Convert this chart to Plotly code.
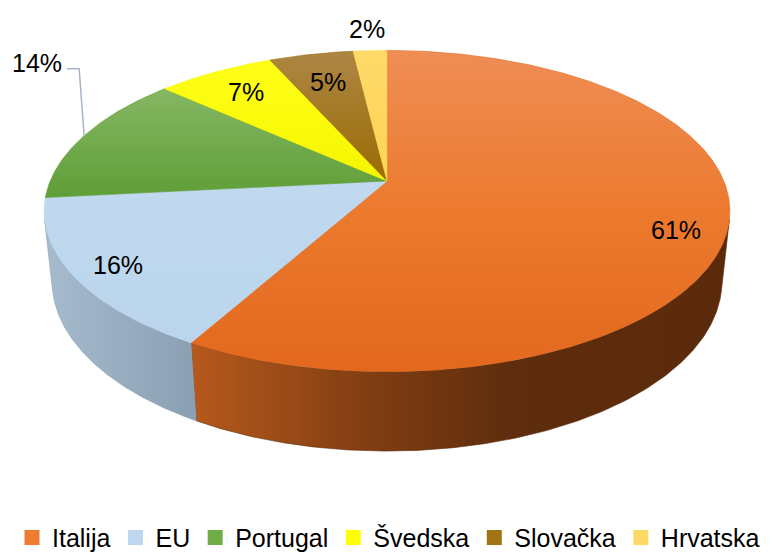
import numpy as np
import plotly.graph_objects as go

# ---------------- data ----------------
categories = ["Italija", "EU", "Portugal", "Švedska", "Slovačka", "Hrvatska"]
values = [61, 16, 14, 7, 5, 2]
labels = [f"{v}%" for v in values]

# ---------------- styles ----------------
# vertical gradients: first stop = bottom, last stop = top
top_scales = [
    [[0, "#E2681E"], [0.5, "#EC7A2E"], [1, "#EF8D55"]],
    [[0, "#BAD5EC"], [1, "#C0D9EF"]],
    [[0, "#5F9E37"], [1, "#86B763"]],
    [[0, "#F5F500"], [1, "#FFFF18"]],
    [[0, "#9A6C00"], [1, "#AD8646"]],
    [[0, "#FFD452"], [1, "#FFDA6A"]],
]
side_scales = [
    [[0, "#B6591C"], [0.35, "#7E3C12"], [0.6, "#5E2D0D"], [1, "#5A2A0B"]],
    [[0, "#A7BBCF"], [1, "#8B9FB3"]],
    [[0, "#5A8A35"], [1, "#4A7A28"]],
    [[0, "#CCCC00"], [1, "#BBBB00"]],
    [[0, "#7A5500"], [1, "#6A4A00"]],
    [[0, "#CCAA44"], [1, "#BB9933"]],
]
legend_colors = ["#ED7D31", "#BDD7EE", "#70AD47", "#FFFF00", "#A07415", "#FFD966"]
FONT = "Liberation Sans, Arial, sans-serif"

# ---------------- 3D projection geometry ----------------
W, Hh = 777, 554
CX, CY = 387, 181          # projected pie centre (pixels)
F, D = 1600.0, 4.75        # focal length / camera distance
PHI = np.radians(27.4)     # elevation angle
SP, CP = np.sin(PHI), np.cos(PHI)
THICK = 0.2366             # slab thickness (radius units)


def proj(theta_deg, r=1.0, z=0.0):
    t = np.radians(np.asarray(theta_deg, dtype=float))
    X = r * np.sin(t)
    Y = r * np.cos(t)
    depth = D + Y * CP - z * SP
    return CX + F * X / depth, CY - F * (Y * SP + z * CP) / depth


total = float(sum(values))
bounds = np.concatenate([[0], np.cumsum(values) / total * 360.0])

# visible part of the side wall (faces camera)
c_lim = -1.0 / (D * CP)
vis_a = np.degrees(np.arccos(c_lim))
vis_b = 360 - vis_a

fig = go.Figure()

# side walls
for i, name in enumerate(categories):
    a, b = max(bounds[i], vis_a), min(bounds[i + 1], vis_b)
    if b <= a:
        continue
    th = np.linspace(a, b, 200)
    xt, yt = proj(th)
    xb, yb = proj(th[::-1], z=-THICK)
    xs = np.concatenate([xt, xb, xt[:1]])
    ys = np.concatenate([yt, yb, yt[:1]])
    fig.add_trace(go.Scatter(
        x=xs, y=ys, mode="lines", fill="toself",
        line=dict(width=0.6, color=side_scales[i][-1][1]),
        fillgradient=dict(type="horizontal", colorscale=side_scales[i]),
        showlegend=False, hoverinfo="skip"))

# top surfaces
for i, name in enumerate(categories):
    a, b = bounds[i], bounds[i + 1]
    n = max(int((b - a) * 2), 10)
    th = np.linspace(a, b, n)
    xr, yr = proj(th)
    xs = np.concatenate([[CX], xr, [CX]])
    ys = np.concatenate([[CY], yr, [CY]])
    fig.add_trace(go.Scatter(
        x=xs, y=ys, mode="lines", fill="toself",
        line=dict(width=0.6, color=top_scales[i][0][1]),
        fillgradient=dict(type="vertical", colorscale=top_scales[i]),
        showlegend=False, hoverinfo="skip"))

# legend entries
for i, name in enumerate(categories):
    fig.add_trace(go.Scatter(
        x=[None], y=[None], mode="markers", name=name,
        marker=dict(symbol="square", size=15, color=legend_colors[i]),
        showlegend=True))

# ---------------- data labels ----------------
label_r = [0.85, 0.87, 1.0, 0.8, 0.75, 1.2]
label_dy = [14, 2, 0, 0, 0, 0]
annotations = []
for i, txt in enumerate(labels):
    mid = (bounds[i] + bounds[i + 1]) / 2
    if i == 2:
        # outside label with leader line
        rx, ry = proj(mid)
        lx = [float(rx), float(rx) - 5, float(rx) - 17]
        ly = [float(ry), float(ry) - 67, float(ry) - 67]
        fig.add_trace(go.Scatter(x=lx, y=ly, mode="lines",
                                 line=dict(color="#A5B5C8", width=1.5),
                                 showlegend=False, hoverinfo="skip"))
        annotations.append(dict(x=float(rx) - 20, y=float(ry) - 73, text=txt,
                                xref="x", yref="y", xanchor="right", yanchor="middle",
                                showarrow=False, font=dict(family=FONT, size=25, color="#000000")))
        continue
    px, py = proj(mid, r=label_r[i])
    annotations.append(dict(x=float(px), y=float(py) + label_dy[i], text=txt,
                            xref="x", yref="y", xanchor="center", yanchor="middle",
                            showarrow=False, font=dict(family=FONT, size=25, color="#000000")))

fig.update_layout(
    width=W, height=Hh,
    margin=dict(l=0, r=0, t=0, b=0, autoexpand=False),
    paper_bgcolor="white", plot_bgcolor="white",
    xaxis=dict(range=[0, W], visible=False, fixedrange=True),
    yaxis=dict(range=[Hh, 0], visible=False, fixedrange=True),
    annotations=annotations,
    showlegend=True,
    legend=dict(orientation="h", x=0.5, xanchor="center", y=-0.012, yanchor="bottom",
                font=dict(family=FONT, size=25, color="#000000"),
                bgcolor="rgba(0,0,0,0)", itemclick=False, itemdoubleclick=False,
                tracegroupgap=0),
)

fig.write_html("out.html")
